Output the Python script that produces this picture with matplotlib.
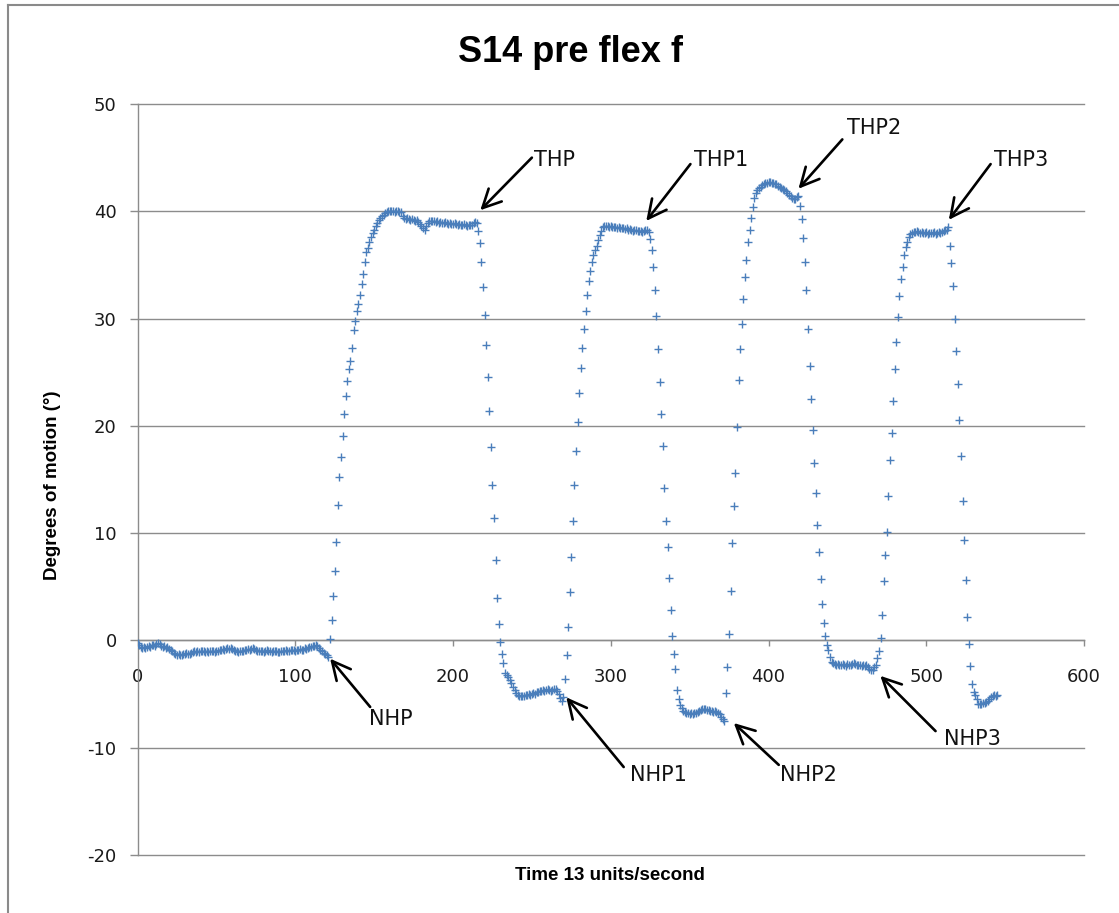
import numpy as np
import matplotlib
matplotlib.use("Agg")
import matplotlib.pyplot as plt
from matplotlib.lines import Line2D

plt.rcParams["axes.unicode_minus"] = False

# ── DATA (one sample per time unit) ─────────────────────────
baseline = [
    -0.2, -0.4, -0.6, -0.7, -0.6, -0.7, -0.6, -0.5, -0.6, -0.45,
    -0.4, -0.5, -0.3, -0.25, -0.3, -0.5, -0.6, -0.55, -0.7, -0.6,
    -0.8, -0.9, -1.0, -1.2, -1.3, -1.4, -1.3, -1.35, -1.4, -1.3,
    -1.3, -1.2, -1.3, -1.25, -1.2, -1.1, -1.0, -1.05, -1.0, -1.1,
    -1.0, -0.95, -1.0, -1.05, -1.0, -1.1, -1.0, -0.95, -1.0, -1.05,
    -1.0, -0.95, -0.9, -0.85, -0.8, -0.85, -0.8, -0.75, -0.8, -0.7,
    -0.8, -0.9, -0.95, -1.0, -1.05, -1.0, -0.95, -1.0, -0.9, -0.85,
    -0.8, -0.85, -0.8, -0.75, -0.8, -0.9, -0.95, -1.0, -0.95, -1.0,
    -1.05, -1.0, -0.9, -0.95, -1.0, -1.05, -1.0, -0.95, -1.0, -1.05,
    -1.1, -1.0, -0.95, -1.0, -0.9, -0.95, -1.0, -0.9, -0.85, -0.9,
    -0.95, -0.9, -0.85, -0.8, -0.9, -0.85, -0.75, -0.8, -0.7, -0.6,
    -0.65, -0.55, -0.5, -0.45, -0.5, -0.7, -0.9, -1.0, -1.2, -1.3,
    -1.4, -1.5,
]
rise_1 = [
    0.1, 1.9, 4.1, 6.5, 9.2, 12.6, 15.2, 17.1, 19.1, 21.1,
    22.8, 24.2, 25.3, 26.0, 27.3, 28.9, 29.8, 30.7, 31.4, 32.2,
    33.2, 34.2, 35.3, 36.2, 36.6, 37.1, 37.6, 38.0, 38.3, 38.6,
    38.9, 39.2, 39.4, 39.6, 39.7, 39.8, 39.9, 40.0,
]
hold_1 = [
    40.0, 40.05, 40.0, 39.95, 40.0, 40.05, 39.95, 39.9,
    39.6, 39.4, 39.3, 39.35, 39.3, 39.2, 39.25, 39.2, 39.1, 39.15, 39.0,
    38.8, 38.6, 38.4, 38.3,
    38.6, 38.9, 39.1, 39.1,
    39.05, 39.1, 39.0, 39.05, 38.95, 39.0, 38.9, 38.95, 39.0, 38.9,
    38.85, 38.9, 38.8, 38.85, 38.9, 38.8, 38.75, 38.8, 38.7, 38.75,
    38.8, 38.7, 38.65, 38.7, 38.75, 38.7,
    38.9, 39.0, 38.9,
]
fall_1 = [
    38.2, 37.0, 35.3, 32.9, 30.3, 27.5, 24.6, 21.4, 18.0, 14.5,
    11.4, 7.5, 4.0, 1.5, -0.1, -1.3, -2.1, -3.0, -3.2, -3.4,
    -3.7, -4.0, -4.3, -4.6, -4.9, -5.1, -5.2, -5.2,
]
low_1 = [
    -5.2, -5.15, -5.1, -5.1, -5.0, -5.05, -4.95, -4.9, -4.95, -4.85,
    -4.8, -4.7, -4.75, -4.6, -4.7, -4.65, -4.55, -4.6, -4.7, -4.6,
    -4.5, -4.55, -4.7, -5.0, -5.4, -5.6, -5.3,
]
rise_2 = [
    -3.6, -1.35, 1.25, 4.5, 7.8, 11.1, 14.5, 17.7, 20.4, 23.1,
    25.4, 27.3, 29.0, 30.7, 32.2, 33.5, 34.4, 35.3, 35.9, 36.4,
    36.8, 37.3, 37.8, 38.2, 38.5, 38.6,
]
hold_2 = [
    38.65, 38.6, 38.55, 38.6, 38.5, 38.55, 38.5, 38.45, 38.5, 38.4,
    38.45, 38.4, 38.35, 38.4, 38.3, 38.35, 38.3, 38.2, 38.25, 38.3,
    38.2, 38.15, 38.2, 38.1, 38.2, 38.3, 38.25, 38.1,
]
fall_2 = [
    37.4, 36.4, 34.8, 32.7, 30.2, 27.2, 24.1, 21.1, 18.1, 14.2,
    11.1, 8.7, 5.8, 2.8, 0.4, -1.25, -2.7, -4.6, -5.5, -6.0,
    -6.3, -6.6,
]
low_2 = [
    -6.7, -6.8, -6.75, -6.85, -6.8, -6.9, -6.8, -6.75, -6.7, -6.6,
    -6.5, -6.4, -6.35, -6.4, -6.5, -6.45, -6.55, -6.6, -6.7, -6.6,
    -6.65, -6.8, -6.9, -7.1, -7.3, -7.5,
]
rise_3 = [
    -4.9, -2.5, 0.6, 4.6, 9.1, 12.5, 15.6, 19.9, 24.3, 27.2,
    29.5, 31.8, 33.9, 35.5, 37.1, 38.3, 39.4, 40.4,
]
hold_3 = [
    41.2, 41.7, 42.0, 42.2, 42.3, 42.45, 42.55, 42.6, 42.65, 42.7,
    42.7, 42.65, 42.6, 42.55, 42.5, 42.4, 42.3, 42.2, 42.1, 42.0,
    41.85, 41.7, 41.55, 41.4, 41.25, 41.15, 41.1, 41.35, 41.4,
]
fall_3 = [
    40.5, 39.3, 37.5, 35.3, 32.7, 29.0, 25.6, 22.5, 19.6, 16.5,
    13.7, 10.8, 8.2, 5.7, 3.4, 1.6, 0.4, -0.4, -0.9, -1.5,
    -2.0, -2.1, -2.2, -2.3,
]
low_3 = [
    -2.2, -2.3, -2.25, -2.2, -2.3, -2.35, -2.2, -2.25, -2.3, -2.2,
    -2.15, -2.2, -2.3, -2.25, -2.3, -2.35, -2.3, -2.4, -2.3, -2.5,
    -2.7, -2.8, -2.75, -2.5,
]
rise_4 = [
    -2.3, -1.6, -1.0, 0.2, 2.4, 5.55, 8.0, 10.1, 13.5, 16.8,
    19.3, 22.3, 25.3, 27.8, 30.1, 32.1, 33.7, 34.8, 35.9, 36.7,
    37.1, 37.6, 37.9, 38.0, 38.1,
]
hold_4 = [
    38.1, 38.15, 38.1, 38.0, 38.05, 37.95, 38.0, 38.05, 37.9, 38.0,
    37.95, 38.0, 38.05, 37.9, 38.0, 38.1, 38.0, 38.1, 38.2, 38.25,
    38.3, 38.5,
]
fall_4 = [
    36.8, 35.2, 33.0, 30.0, 27.0, 23.9, 20.5, 17.2, 13.0, 9.4,
    5.6, 2.2, -0.3, -2.4, -4.1, -4.8, -5.1, -5.5, -5.9, -5.95,
    -5.9, -5.85, -5.8, -5.7, -5.6, -5.5, -5.3, -5.2, -5.1, -5.15,
    -5.1,
]

degrees = (baseline + rise_1 + hold_1 + fall_1 + low_1 + rise_2 + hold_2
           + fall_2 + low_2 + rise_3 + hold_3 + fall_3 + low_3 + rise_4
           + hold_4 + fall_4)
time_units = np.arange(len(degrees))

# annotation labels: (label, arrow tip, arrow tail, text anchor)
peak_labels = ["THP", "THP1", "THP2", "THP3"]
peak_tips = [(217.3, 40.1), (322.5, 39.1), (419.0, 42.1), (514.3, 39.2)]
peak_tails = [(250.0, 45.0), (350.5, 44.4), (446.8, 46.7), (540.8, 44.4)]
peak_text = [(251.5, 44.8), (353.0, 44.8), (449.6, 47.8), (543.0, 44.8)]

trough_labels = ["NHP", "NHP1", "NHP2", "NHP3"]
trough_tips = [(122.1, -1.7), (271.8, -5.3), (378.0, -7.7), (470.9, -3.3)]
trough_tails = [(147.5, -6.2), (308.2, -11.8), (406.5, -11.6), (505.9, -8.45)]
trough_text = [(147.0, -7.3), (312.4, -12.5), (407.6, -12.5), (511.0, -9.2)]

# ── FIGURE ──────────────────────────────────────────────────
W, H = 1119, 913
fig = plt.figure(figsize=(W / 100, H / 100), dpi=100)
fig.patch.set_facecolor("white")

ax = fig.add_axes([137.5 / W, 1 - 855 / H, (1084 - 137.5) / W, (855 - 104) / H])

GRID = "#8c8c8c"
BLUE = "#4A7EBB"

ax.plot(time_units, degrees, linestyle="none", marker="+",
        markersize=6, markeredgewidth=1.0, color=BLUE, zorder=3)

ax.set_xlim(0, 600)
ax.set_ylim(-20, 50)
ax.set_xticks(np.arange(0, 601, 100))
ax.set_yticks(np.arange(-20, 51, 10))
ax.yaxis.grid(True, color=GRID, linewidth=1.0)
ax.set_axisbelow(True)
for gl in ax.get_ygridlines():
    gl.set_clip_on(False)

for side in ["top", "right"]:
    ax.spines[side].set_visible(False)
ax.spines["left"].set_color(GRID)
ax.spines["left"].set_linewidth(1.0)
ax.spines["bottom"].set_position(("data", 0))
ax.spines["bottom"].set_color(GRID)
ax.spines["bottom"].set_linewidth(1.0)

ax.tick_params(axis="y", direction="out", length=6, width=1.0, color=GRID,
               pad=9, labelsize=13, labelcolor="#1a1a1a")
ax.tick_params(axis="x", direction="out", length=4.5, width=1.0, color=GRID,
               pad=15, labelsize=13, labelcolor="#1a1a1a")

arrow_kw = dict(arrowstyle="->,head_length=0.6,head_width=0.3",
                mutation_scale=22, lw=1.9, color="black",
                shrinkA=0, shrinkB=0)

for lab, tip, tail, txt in zip(peak_labels, peak_tips, peak_tails, peak_text):
    ax.annotate("", xy=tip, xytext=tail, arrowprops=arrow_kw, zorder=4)
    ax.text(txt[0], txt[1], lab, fontsize=15, ha="left", va="center",
            color="#111111", family="DejaVu Sans")

for lab, tip, tail, txt in zip(trough_labels, trough_tips, trough_tails, trough_text):
    ax.annotate("", xy=tip, xytext=tail, arrowprops=arrow_kw, zorder=4)
    ax.text(txt[0], txt[1], lab, fontsize=15, ha="left", va="center",
            color="#111111", family="DejaVu Sans")

# titles in a bold sans (Calibri stand-in)
label_font = ["Liberation Sans", "DejaVu Sans"]
fig.text(570 / W, 1 - 52 / H, "S14 pre flex f", fontsize=26,
         fontweight="bold", family=label_font, ha="center", va="center")
fig.text(610 / W, 1 - 875 / H, "Time 13 units/second", fontsize=13.5,
         fontweight="bold", family=label_font, ha="center", va="center")
fig.text(53 / W, 1 - 485 / H, "Degrees of motion (°)", fontsize=13.5,
         fontweight="bold", family=label_font, ha="center", va="center",
         rotation=90)

# chart frame (only left and top edges fall inside the picture)
fig.add_artist(Line2D([8 / W, 8 / W], [0, 1 - 5 / H], color="#8a8a8a", lw=1.5))
fig.add_artist(Line2D([8 / W, 1], [1 - 5 / H, 1 - 5 / H], color="#8a8a8a", lw=1.5))

fig.savefig("out.png", dpi=100, facecolor="white")
